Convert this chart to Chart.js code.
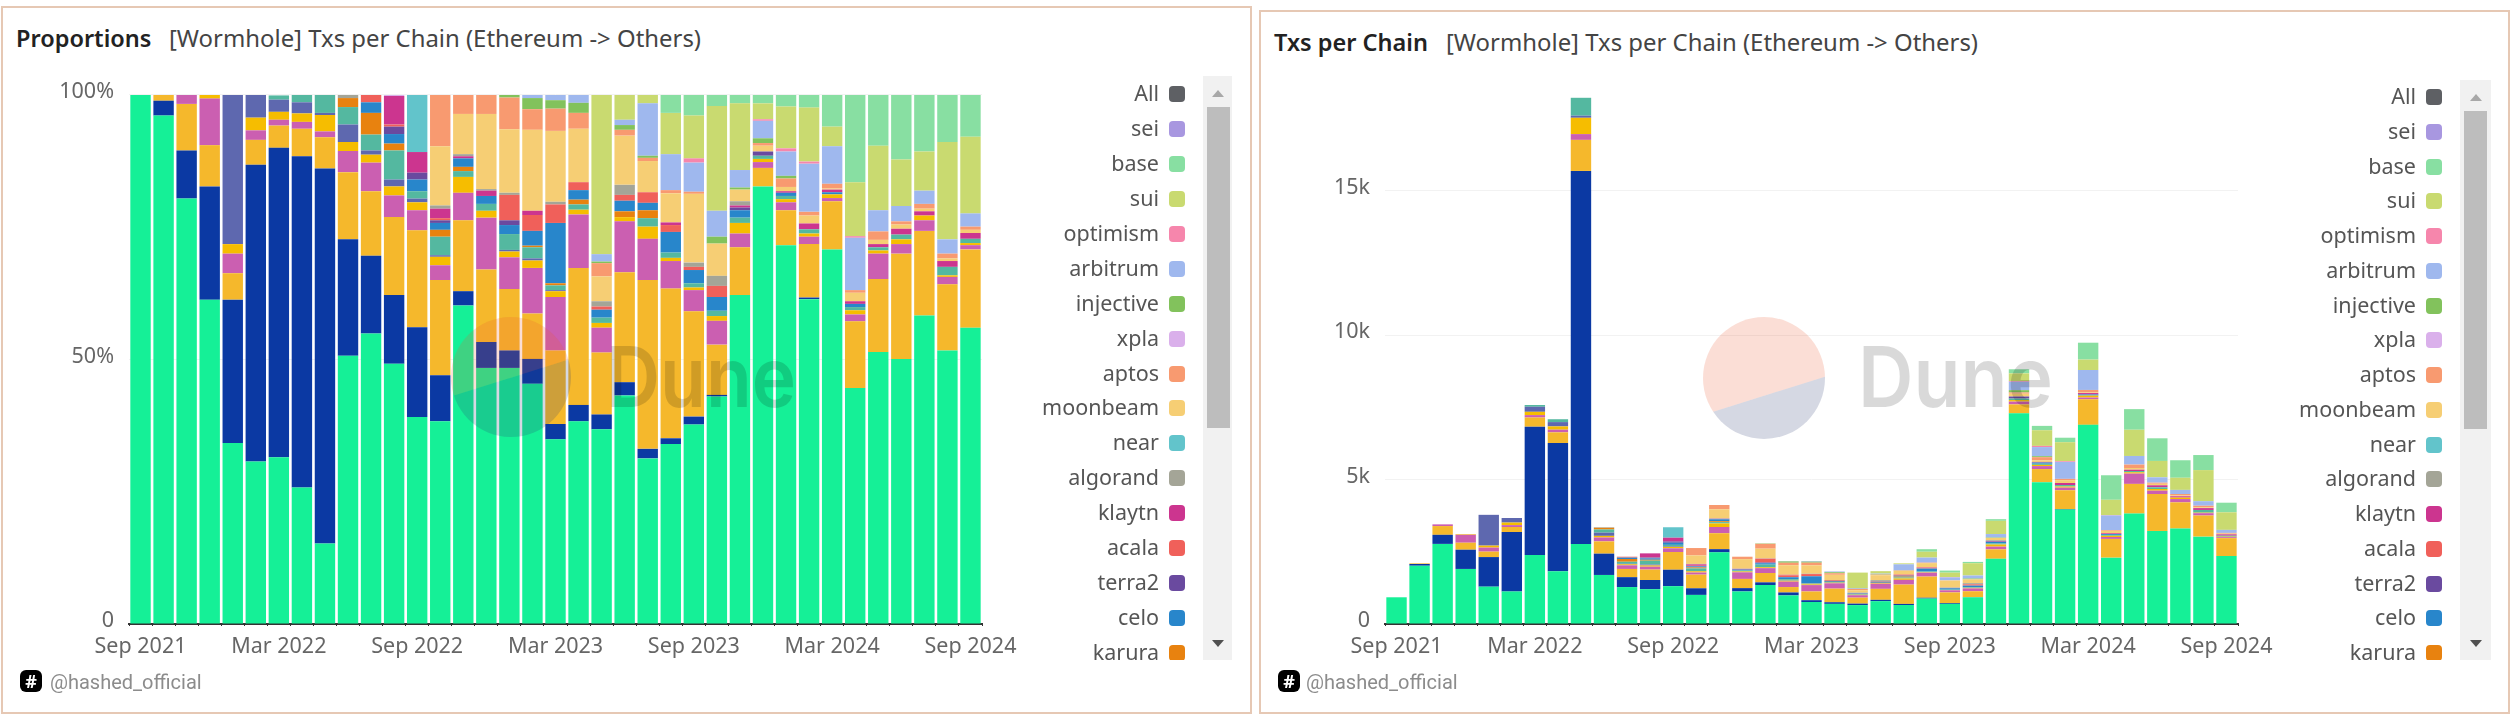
<!DOCTYPE html>
<html>
<head>
<meta charset="utf-8">
<script src="https://cdn.jsdelivr.net/npm/chart.js@4"></script>
<style>
  html, body { margin: 0; padding: 0; background: #fff; width: 2512px; height: 723px; overflow: hidden; font-family: "Noto Sans", sans-serif; }
  .panel { position: absolute; box-sizing: border-box; border: 2px solid #e6c8b4; }
  .abs { position: absolute; white-space: nowrap; }
  canvas { position: absolute; }
  .title { font-size: 23.5px; font-weight: 600; color: #222; line-height: 28px; }
  .subtitle { font-size: 23.9px; color: #444; line-height: 28px; }
  .handle { font-family: Roboto, sans-serif; font-size: 20px; color: #8c8c8c; line-height: 24px; }
  .badge { background: #000; color: #fff; border-radius: 6px; font-weight: 700; font-size: 18px; text-align: center; width: 22px; height: 22px; line-height: 22px; }
  .legend { position: absolute; overflow: hidden; }
  .row-label { position: absolute; right: 0; font-size: 21.5px; color: #555; line-height: 26px; white-space: nowrap; }
  .row-swatch { position: absolute; width: 16px; height: 16px; border-radius: 4px; }
  .track { position: absolute; background: #f1f1f1; }
  .thumb { position: absolute; background: #bdbdbd; }
  .arrow-up { position: absolute; width: 0; height: 0; border-left: 6px solid transparent; border-right: 6px solid transparent; border-bottom: 7px solid #a8a8a8; }
  .arrow-down { position: absolute; width: 0; height: 0; border-left: 6px solid transparent; border-right: 6px solid transparent; border-top: 7px solid #505050; }
  #watermark { position: absolute; left: 0; top: 0; pointer-events: none; }
</style>
</head>
<body>
<div class="panel" style="left:1px;top:6px;width:1251px;height:708px"></div>
<div class="panel" style="left:1259px;top:10px;width:1251px;height:704px"></div>

<div class="abs title" style="left:16px;top:24px">Proportions</div>
<div class="abs subtitle" style="left:169px;top:24px">[Wormhole] Txs per Chain (Ethereum -&gt; Others)</div>
<div class="abs title" style="left:1274px;top:28px">Txs per Chain</div>
<div class="abs subtitle" style="left:1446px;top:28px">[Wormhole] Txs per Chain (Ethereum -&gt; Others)</div>

<canvas id="share" width="1000" height="603" style="left:40px;top:67px"></canvas>
<canvas id="count" width="1000" height="603" style="left:1296px;top:67px"></canvas>

<div class="abs badge" style="left:20px;top:670px">#</div>
<div class="abs handle" style="left:50px;top:670px">@hashed_official</div>
<div class="abs badge" style="left:1278px;top:670px">#</div>
<div class="abs handle" style="left:1306px;top:670px">@hashed_official</div>

<div id="legend1"></div>
<div id="legend2"></div>

<svg id="watermark" width="2512" height="723">
  <defs>
    <clipPath id="logo1"><circle cx="511" cy="377" r="60"/></clipPath>
    <clipPath id="logo2"><circle cx="1764" cy="378" r="61"/></clipPath>
  </defs>
  <g clip-path="url(#logo1)">
    <polygon points="440,300 580,300 580,356 440,400" fill="rgba(236,90,50,0.2)"/>
    <polygon points="440,400 580,356 580,450 440,450" fill="rgba(45,60,115,0.2)"/>
  </g>
  <g clip-path="url(#logo2)">
    <polygon points="1690,300 1840,300 1840,372 1690,419" fill="rgba(236,90,50,0.2)"/>
    <polygon points="1690,419 1840,372 1840,450 1690,450" fill="rgba(45,60,115,0.2)"/>
  </g>
  <text x="606" y="407" font-family="Inter" font-weight="600" font-size="84" fill="rgba(0,0,0,0.15)" textLength="190" lengthAdjust="spacingAndGlyphs">Dune</text>
  <text x="1858" y="407" font-family="Inter" font-weight="600" font-size="84" fill="rgba(0,0,0,0.15)" textLength="195" lengthAdjust="spacingAndGlyphs">Dune</text>
</svg>

<script>
const months = ['Sep 2021','Oct 2021','Nov 2021','Dec 2021','Jan 2022','Feb 2022','Mar 2022','Apr 2022','May 2022','Jun 2022','Jul 2022','Aug 2022','Sep 2022','Oct 2022','Nov 2022','Dec 2022','Jan 2023','Feb 2023','Mar 2023','Apr 2023','May 2023','Jun 2023','Jul 2023','Aug 2023','Sep 2023','Oct 2023','Nov 2023','Dec 2023','Jan 2024','Feb 2024','Mar 2024','Apr 2024','May 2024','Jun 2024','Jul 2024','Aug 2024','Sep 2024'];

// monthly total txs
const monthlyTotals = [925,2100,3450,3110,3780,3670,7590,7090,18220,3350,2330,2450,3350,2630,4120,2330,2790,2180,2180,1820,1780,1830,2100,2590,1850,2150,3630,8820,6860,6450,9740,5150,7440,6430,5670,5850,4200];

// share of each chain per month in % (bottom of the stack first)
const solana = [100,96.1,80.4,61.3,34.2,30.7,31.5,25.8,15.2,50.7,54.9,49.2,39.1,38.3,60.2,48.4,48.4,45.4,34.9,38.3,36.8,43.2,31.3,34,37.7,43,62.2,82.7,71.6,61.4,70.8,44.6,51.4,50.1,58.3,51.7,56];
const bnb = [0,2.8,9.1,21.4,27.1,56.1,58.5,62.6,70.9,22,14.7,13,17,8.7,2.7,4.9,3.3,4.7,2.9,3.1,2.8,2.5,1.8,1.1,1.5,0.3,0,0,0,0.3,0,0,0,0,0,0,0];
const polygon = [0,1.1,8.8,7.8,5,4.7,4.2,5.2,5.9,12.7,12.2,14.7,18.3,18,13.4,13.7,11.6,8.6,13.9,25.9,11.7,20.8,31.9,28.3,19.9,9.5,9,3.5,6.6,10.1,9.1,12.6,13.8,19.9,16,12.5,14.8];
const avalanche = [0,0,1.7,8.8,3.7,1.8,1.1,1.3,1.1,4,5.4,4.1,3.8,2.8,5.2,9.8,6,8.6,10.1,10.1,4.7,9.6,7.8,5.2,4,4.5,2.6,1.1,1.5,1.4,0.6,1.3,4.8,1.8,2,1.4,0.8];
const oasis = [0,0,0,0.7,1.8,2.4,1.5,1.6,3.1,1.7,1.5,1.7,1.5,1.6,3,1.3,1.1,1.4,1.1,0.9,0.9,0.8,2.3,0.6,0.5,0.9,2,0.6,0.6,0.6,0.7,0.8,0.6,0.9,0.9,0.3,0.4];
const fantom = [0,0,0,0,28.2,4.3,2.3,2.1,0.4,3.3,0.8,1.3,0.7,0.3,0,0,0.3,0.4,0.2,0,0,0,0,0,0,0,0,0,0,0,0,0,0,0,0,0,0];
const aurora = [0,0,0,0,0,0,0.8,1.4,3.4,3.3,3,5.5,1.4,3.5,1.1,1.3,3,2.1,0.9,1,1,0,1.6,1,0.8,1,1,0.6,0.6,0.8,0,0.6,0.6,0.9,0,1.6,0.8];
const karura = [0,0,0,0,0,0,0,0,0,1.7,4.1,1.3,0,1.3,0.8,0,0,0.3,0.4,0.9,0,1.1,1.5,0,0,0,0,0,0,0,0,0,0,0,0,0,0];
const celo = [0,0,0,0,0,0,0,0,0,0,2,1.8,2.2,1.3,1.6,1.5,1.7,2.8,11.4,1.8,1.5,2,1.4,3.9,2.5,2.6,1.4,0,0.6,0,0.4,0.6,0,0,0,0,0];
const terra2 = [0,0,0,0,0,0,0,0,0,0,0,1.4,1.3,0.5,0,0,0.9,0,0,0,0,0,0,0,0,0,0.5,0.8,0,0,0,0,0,0,0,0,0];
const acala = [0,0,0,0,0,0,0,0,0,0,1.4,0.4,0,0.4,0,0,4.8,3,3.5,1.5,0.6,1.1,2,1.3,0.6,2.1,0,0,0,0,0,0,0,0,0,0,0];
const klaytn = [0,0,0,0,0,0,0,0,0,0,0,5.4,3.9,1.8,0.4,1,0,0.8,0,0,0,0,0,0.5,0,0,0.4,0,0.3,1.1,0.5,0.5,0.6,1.1,0.8,1.1,1.1];
const algorand = [0,0,0,0,0,0,0,0,0,0.6,0,0,0,0.6,0.4,0.3,0.4,0,0.5,0,1,1.9,0,0,0.8,1.9,0.8,0,0,0,0,0,0,0,0,0,0];
const near = [0,0,0,0,0,0,0,0,0,0,0,0,10.8,0,0,0,0,0,0,0,0,0,0,0,0,0,0,0,0,0,0,0,0,0,0,0,0];
const moonbeam = [0,0,0,0,0,0,0,0,0,0,0,0,0,11.2,7.6,14.2,12,15.3,13.4,10.1,4.7,9.3,5.9,5.5,13,6.1,2.2,1.1,0.8,1.5,0.2,1.6,0.8,0.8,0.5,0.5,0.6];
const aptos = [0,0,0,0,0,0,0,0,0,0,0,0,0,9.7,3.6,3.6,6,3.9,4.2,3,2.5,1.1,0.6,0.6,0.4,0,0,0.5,1.6,0.7,0.9,0.5,1.6,0.6,0.9,0.9,0.6];
const xpla = [0,0,0,0,0,0,0,0,0,0,0,0.2,0,0,0,0,0,0,0,0,0,0,0,0,0,0,0,0,0,0,0,0,0,0,0,0,0];
const injective = [0,0,0,0,0,0,0,0,0,0,0,0,0,0,0,0,0.5,2.1,1.6,1.9,0.3,0.9,0.4,0,0,1.3,0.4,0.9,0.5,0,0,0,0,0,0,0,0];
const arbitrum = [0,0,0,0,0,0,0,0,0,0,0,0,0,0,0,0,0,0.6,1,1.5,1.4,1,9.9,6.8,5.5,4.9,3.3,3.3,4.6,9.1,7.1,9.9,4,2.9,2.5,2.7,2.5];
const optimism = [0,0,0,0,0,0,0,0,0,0,0,0,0,0,0,0,0,0,0,0,0,0,0,0,0.8,0,0,0.3,0.6,0.4,0,0.3,0,0,0,0,0];
const sui = [0,0,0,0,0,0,0,0,0,0,0,0,0,0,0,0,0,0,0,0,30.1,4.7,1.6,7.8,8.1,19.8,12.6,3,7.9,10.2,3.7,10.2,12.2,8.8,7.4,18.4,14.5];
const base = [0,0,0,0,0,0,0,0,0,0,0,0,0,0,0,0,0,0,0,0,0,0,0,3.4,3.9,2.1,1.6,1.6,2.2,2.4,6,16.5,9.6,12.2,10.7,8.9,7.9];
const sei = [0,0,0,0,0,0,0,0,0,0,0,0,0,0,0,0,0,0,0,0,0,0,0,0,0,0,0,0,0,0,0,0,0,0,0,0,0];

const shareTicks = [0, 50, 100];
const countTicks = [0, 5000, 10000, 15000];

const chains = [
  ['solana', solana, '#15f097'], ['bnb', bnb, '#0b39a3'], ['polygon', polygon, '#f5b82c'],
  ['avalanche', avalanche, '#cb5fb1'], ['oasis', oasis, '#f6bd00'], ['fantom', fantom, '#5e68af'],
  ['aurora', aurora, '#54b8a0'], ['karura', karura, '#e8820f'], ['celo', celo, '#2886cb'],
  ['terra2', terra2, '#6a4a9f'], ['acala', acala, '#f0605a'], ['klaytn', klaytn, '#cc358f'],
  ['algorand', algorand, '#a4a597'], ['near', near, '#62c4cb'], ['moonbeam', moonbeam, '#f6ce74'],
  ['aptos', aptos, '#f89a70'], ['xpla', xpla, '#dab0eb'], ['injective', injective, '#82c25c'],
  ['arbitrum', arbitrum, '#9fb8ee'], ['optimism', optimism, '#f686ac'], ['sui', sui, '#c9da70'],
  ['base', base, '#88dfa2'], ['sei', sei, '#a897e0']
];

function stackedBars(canvasId, datasets, yMax, yTicks, yFormat) {
  return new Chart(document.getElementById(canvasId), {
    type: 'bar',
    data: { labels: months, datasets: datasets },
    options: {
      responsive: false,
      animation: false,
      devicePixelRatio: 1,
      layout: { padding: { top: 22, right: 58, left: 0, bottom: 0 } },
      plugins: { legend: { display: false }, tooltip: { enabled: false } },
      datasets: { bar: { categoryPercentage: 1, barPercentage: 0.885 } },
      scales: {
        x: {
          stacked: true,
          afterFit: axis => { axis.height = 46; },
          grid: { drawOnChartArea: false, tickLength: 2, color: '#333' },
          border: { color: '#333', width: 2 },
          ticks: {
            autoSkip: false, maxRotation: 0, padding: 8, color: '#666',
            font: { family: 'Noto Sans', size: 21.5 },
            callback: (v, i) => i % 6 === 0 ? months[i] : ''
          }
        },
        y: {
          stacked: true,
          min: 0,
          max: yMax,
          afterFit: axis => { axis.width = 89; },
          afterBuildTicks: axis => { axis.ticks = yTicks.map(value => ({ value })); },
          grid: { color: '#f2f2f2', drawTicks: false },
          border: { display: false },
          ticks: {
            padding: 15, labelOffset: -3, color: '#666',
            font: { family: 'Noto Sans', size: 21.5 },
            callback: yFormat
          }
        }
      }
    }
  });
}

stackedBars('share',
  chains.map(c => ({ label: c[0], data: c[1], backgroundColor: c[2] })),
  100, shareTicks, v => v === 0 ? '0' : v + '%');

stackedBars('count',
  chains.map(c => ({ label: c[0], data: c[1].map((s, i) => s * monthlyTotals[i] / 100), backgroundColor: c[2] })),
  18320, countTicks, v => v === 0 ? '0' : (v / 1000) + 'k');

// legend column: All first, then the stack from the top down to where the box cuts it off
const legendRows = [['All', null, '#5e6064']].concat(chains.slice().reverse());
function buildLegend(hostId, box) {
  const host = document.getElementById(hostId);
  let html = '<div class="track" style="left:' + box.trackLeft + 'px;top:' + box.trackTop + 'px;width:' + box.trackWidth + 'px;height:' + (660 - box.trackTop) + 'px"></div>';
  html += '<div class="thumb" style="left:' + box.thumbLeft + 'px;top:' + box.thumbTop + 'px;width:23px;height:' + (box.thumbBottom - box.thumbTop) + 'px"></div>';
  html += '<div class="arrow-up" style="left:' + (box.thumbLeft + 5.5) + 'px;top:' + (box.thumbTop - 17) + 'px"></div>';
  html += '<div class="arrow-down" style="left:' + (box.thumbLeft + 5.5) + 'px;top:640px"></div>';
  html += '<div class="legend" style="left:' + (box.labelRight - 200) + 'px;top:0;width:240px;height:660px">';
  legendRows.slice(0, 17).forEach((r, i) => {
    const y = box.firstRow + i * box.step;
    html += '<div class="row-label" style="right:40px;top:' + (y - 14) + 'px">' + r[0] + '</div>';
    html += '<div class="row-swatch" style="left:210px;top:' + (y - 8) + 'px;background:' + r[2] + '"></div>';
  });
  html += '</div>';
  host.innerHTML = html;
}
buildLegend('legend1', { labelRight: 1159, firstRow: 94, step: 34.94, trackLeft: 1203, trackTop: 76, trackWidth: 29, thumbLeft: 1206.5, thumbTop: 107, thumbBottom: 428 });
buildLegend('legend2', { labelRight: 2416, firstRow: 97, step: 34.75, trackLeft: 2460, trackTop: 80, trackWidth: 31, thumbLeft: 2464, thumbTop: 111, thumbBottom: 429 });
</script>
</body>
</html>
